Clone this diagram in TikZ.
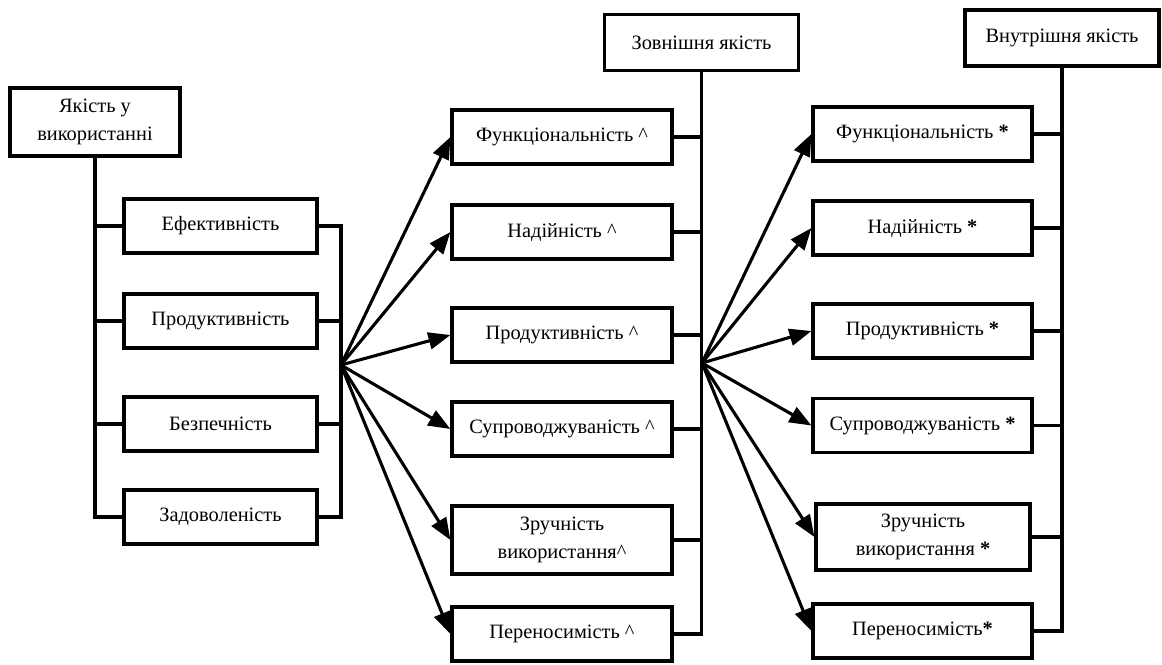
\documentclass[tikz,border=0pt]{standalone}
\usepackage{fontspec}
\setmainfont{Liberation Serif}
\usetikzlibrary{arrows.meta}

\begin{document}
\begin{tikzpicture}[x=0.025cm, y=-0.025cm,
                box/.style={draw, line width=2.2pt, align=center, inner sep=0pt,
                    font=\fontsize{14.5}{20}\selectfont},
                lbox/.style={box, minimum width=4.825cm, minimum height=1.35cm},
                mbox/.style={box, minimum width=5.5cm, minimum height=1.35cm},
                rbox/.style={box, minimum width=5.475cm, minimum height=1.35cm},
                topbox/.style={box, minimum width=4.85cm, minimum height=1.4cm},
                ln/.style={line width=2.2pt},
                arr/.style={line width=2.2pt, -{Triangle[length=0.55cm, width=0.42cm]}}]
                \useasboundingbox (0,0) rectangle (1162,664);

                % quality in use
                \node[box, minimum width=4.25cm, minimum height=1.7cm] (use) at (95,122) {Якість у\\використанні};
                \node[lbox] (L1) at (220.5,226) {Ефективність};
                \node[lbox] (L2) at (220.5,321) {Продуктивність};
                \node[lbox] (L3) at (220.5,424) {Безпечність};
                \node[lbox] (L4) at (220.5,517) {Задоволеність};
                \coordinate (hubA) at (341,365);

                % external quality
                \node[topbox] (ext) at (701.5,42.5) {Зовнішня якість};
                \node[mbox] (M1) at (562,137) {Функціональність \textasciicircum};
                \node[mbox] (M2) at (562,232) {Надійність \textasciicircum};
                \node[mbox] (M3) at (562,335) {Продуктивність \textasciicircum};
                \node[mbox] (M4) at (562,429) {Супроводжуваність \textasciicircum};
                \node[mbox, minimum height=1.7cm] (M5) at (562,540) {Зручність\\використання\textasciicircum};
                \node[mbox] (M6) at (562,634) {Переносимість \textasciicircum};
                \coordinate (hubB) at (702,363);

                % internal quality
                \node[topbox] (int) at (1062,38) {Внутрішня якість};
                \node[rbox] (R1) at (922.5,134) {Функціональність \textbf{*}};
                \node[rbox] (R2) at (922.5,228) {Надійність \textbf{*}};
                \node[rbox] (R3) at (922.5,331) {Продуктивність \textbf{*}};
                \node[rbox] (R4) at (922.5,425.5) {Супроводжуваність \textbf{*}};
                \node[rbox, minimum width=5.35cm, minimum height=1.65cm] (R5) at (923,537) {Зручність\\використання \textbf{*}};
                \node[rbox] (R6) at (922.5,631) {Переносимість\textbf{*}};

                % buses
                \draw[ln] (use.south) |- (L4.west);
                \foreach \n in {1,2,3}
                    \draw[ln] (use.south |- L\n.west) -- (L\n.west);
                \draw[ln] (L1.east) -| (hubA);
                \draw[ln] (L4.east) -| (hubA);
                \foreach \n in {2,3}
                    \draw[ln] (L\n.east) -- (L\n.east -| hubA);

                \draw[ln] (ext.south) |- (M6.east);
                \foreach \n in {1,...,5}
                    \draw[ln] (M\n.east) -- (M\n.east -| ext.south);

                \draw[ln] (int.south) |- (R6.east);
                \foreach \n in {1,...,5}
                    \draw[ln] (R\n.east) -- (R\n.east -| int.south);

                % arrows
                \foreach \n in {1,...,6} {
                    \draw[arr] (hubA) -- (M\n.west);
                    \draw[arr] (hubB) -- (R\n.west);
                }
            \end{tikzpicture}
\end{document}
